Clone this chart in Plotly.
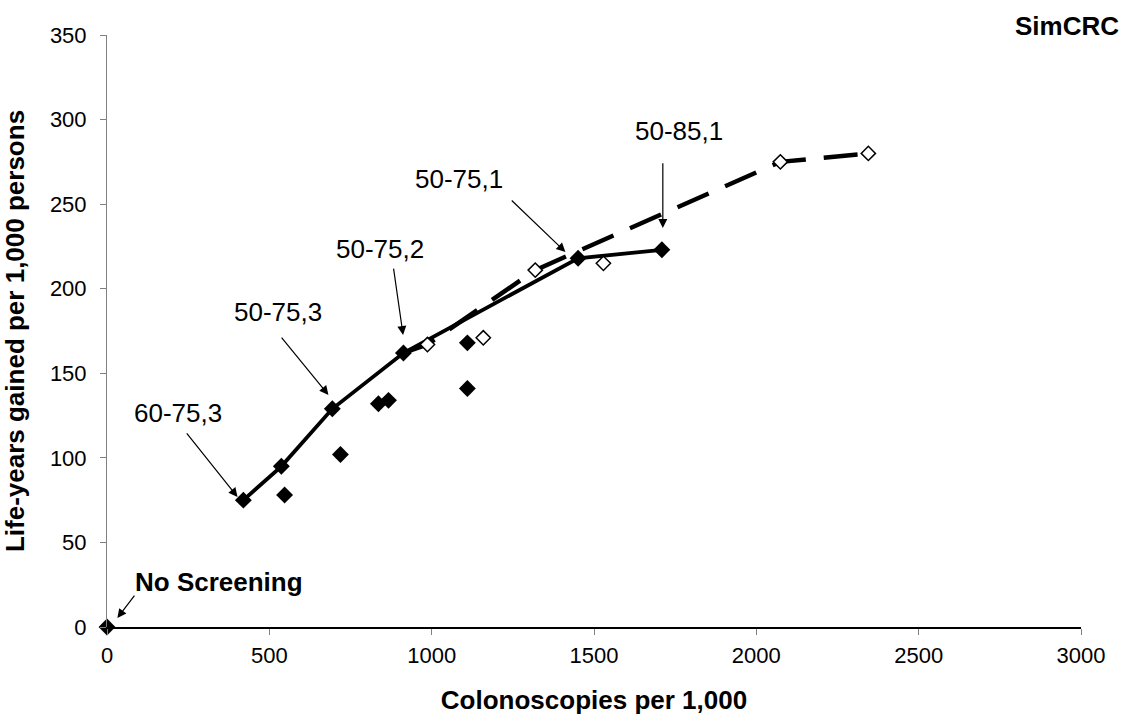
import plotly.graph_objects as go

# Efficient frontier (solid line, filled diamonds)
frontier_x = [420, 537, 694, 913, 1451, 1709]
frontier_y = [75, 95, 129, 162, 218, 223]

# Other (dominated) strategies, filled diamonds
other_x = [547, 719, 836, 867, 1110, 1110]
other_y = [78, 102, 132, 134, 168, 141]

# Extended frontier (dashed line)
ext_line_x = [913, 987, 1319, 2074, 2345]
ext_line_y = [162, 167, 211, 275, 280]

# Strategies shown with open diamonds
open_x = [987, 1159, 1319, 1529, 2074, 2345]
open_y = [167, 171, 211, 215, 275, 280]

# No screening reference point
none_x = [0]
none_y = [0]

x_ticks = [0, 500, 1000, 1500, 2000, 2500, 3000]
y_ticks = [0, 50, 100, 150, 200, 250, 300, 350]

FONT = "Liberation Sans, Arial, sans-serif"

fig = go.Figure()

fig.add_trace(go.Scatter(
    x=ext_line_x, y=ext_line_y, mode="lines",
    line=dict(color="black", width=4.5, dash="34px,18px"),
    hoverinfo="skip", showlegend=False,
))
fig.add_trace(go.Scatter(
    x=frontier_x, y=frontier_y, mode="lines+markers",
    line=dict(color="black", width=3.8),
    marker=dict(symbol="diamond", size=13, color="black"),
    showlegend=False,
))
fig.add_trace(go.Scatter(
    x=other_x, y=other_y, mode="markers",
    marker=dict(symbol="diamond", size=13, color="black"),
    showlegend=False,
))
fig.add_trace(go.Scatter(
    x=open_x, y=open_y, mode="markers",
    marker=dict(symbol="diamond", size=11, color="white",
                line=dict(color="black", width=1.5)),
    showlegend=False,
))
fig.add_trace(go.Scatter(
    x=none_x, y=none_y, mode="markers",
    marker=dict(symbol="diamond", size=13, color="black"),
    cliponaxis=False, showlegend=False,
))

# Strategy labels: (text, text x, text y, arrow tail x, tail y, head x, head y, bold)
labels = [
    ("60-75,3", 220, 126.5, 242, 115.3, 402, 76.9, False),
    ("50-75,3", 528, 186.5, 534, 172.0, 682, 137.2, False),
    ("50-75,2", 842, 223.5, 882, 212.8, 912, 172.6, False),
    ("50-75,1", 1085, 264.6, 1242, 253.0, 1412, 221.7, False),
    ("50-85,1", 1763, 293.2, 1712, 275.1, 1712, 235.9, False),
    ("No Screening", 346, 26.6, 88, 19.5, 32, 5.3, True),
]

annotations = []
for text, tx, ty, ax, ay, hx, hy, bold in labels:
    annotations.append(dict(
        x=tx, y=ty, xref="x", yref="y", showarrow=False,
        text=f"<b>{text}</b>" if bold else text,
        font=dict(family=FONT, size=26, color="black"),
        xanchor="center", yanchor="middle",
    ))
    annotations.append(dict(
        x=hx, y=hy, ax=ax, ay=ay, xref="x", yref="y", axref="x", ayref="y",
        text="", showarrow=True, arrowhead=2, arrowsize=1.5, arrowwidth=1.2,
        arrowcolor="black", standoff=0, startstandoff=0,
    ))

# Model name in the top-right corner (paper coordinates)
annotations.append(dict(
    x=(1067 - 106.5) / (1123 - 106.5 - 42), y=(627 - 26.5) / (627 - 35),
    xref="paper", yref="paper", showarrow=False,
    text="<b>SimCRC</b>", font=dict(family=FONT, size=26, color="black"),
    xanchor="center", yanchor="middle",
))

fig.update_layout(
    width=1123, height=721,
    margin=dict(l=106.5, r=42, t=35, b=94),
    plot_bgcolor="white", paper_bgcolor="white",
    font=dict(family=FONT, color="black"),
    annotations=annotations,
    xaxis=dict(
        range=[0, 3000], tickvals=x_ticks, ticktext=[str(v) for v in x_ticks],
        showgrid=False, zeroline=False, showline=True, linecolor="black", linewidth=1.5,
        ticks="outside", ticklen=6, tickcolor="#808080", tickwidth=1,
        ticklabelstandoff=2,
        tickfont=dict(family=FONT, size=22, color="black"),
        title=dict(text="<b>Colonoscopies per 1,000</b>",
                   font=dict(family=FONT, size=26, color="black"), standoff=24),
    ),
    yaxis=dict(
        range=[0, 350], tickvals=y_ticks, ticktext=[str(v) for v in y_ticks],
        showgrid=False, zeroline=False, showline=True, linecolor="#808080", linewidth=1,
        ticks="outside", ticklen=6, tickcolor="#808080", tickwidth=1,
        ticklabelstandoff=9,
        tickfont=dict(family=FONT, size=22, color="black"),
        title=dict(text="<b>Life-years gained per 1,000 persons</b>",
                   font=dict(family=FONT, size=26, color="black"), standoff=20),
    ),
)

fig.write_html("out.html")
